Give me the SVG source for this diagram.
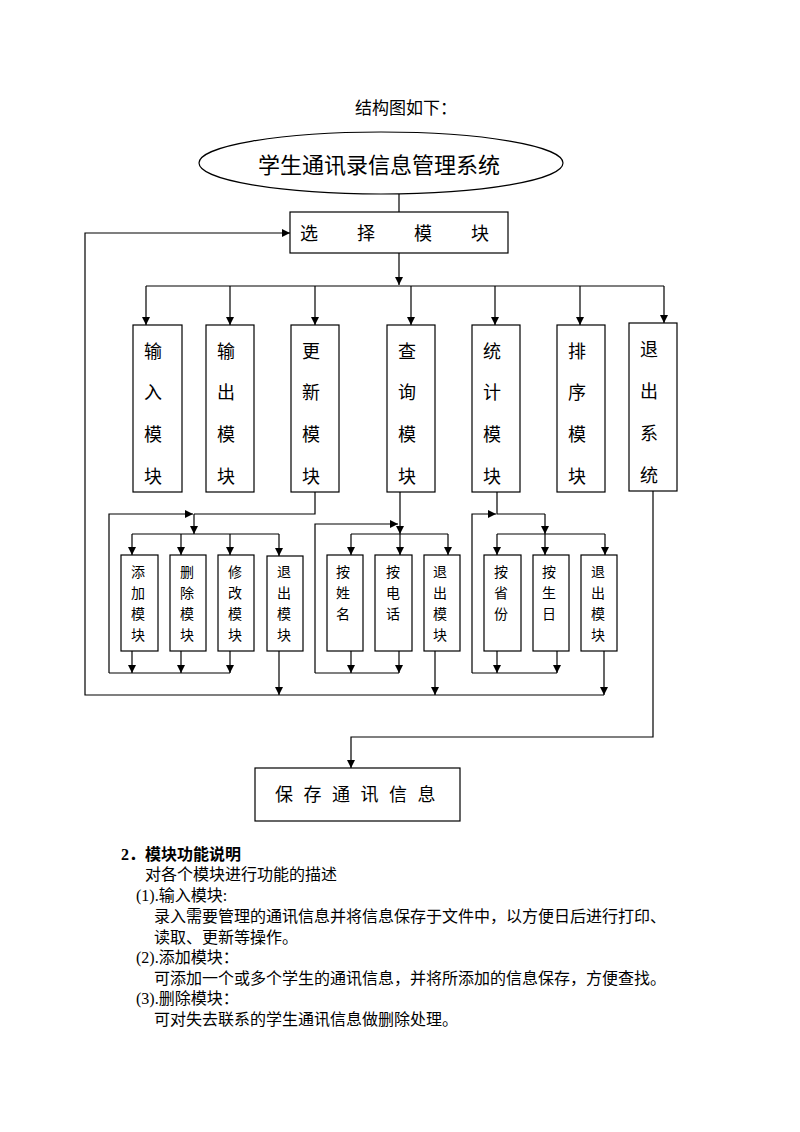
<svg xmlns="http://www.w3.org/2000/svg" width="800" height="1132" viewBox="0 0 800 1132">
<style>
.ln{fill:none;stroke:#000;stroke-width:1.2}
.bx{fill:#fff;stroke:#000;stroke-width:1.2}
.t{font-family:"Liberation Sans","Noto Sans CJK SC",sans-serif;fill:#000}
.m{font-size:18px;text-anchor:middle;dominant-baseline:central}
.s{font-size:14px;text-anchor:middle;dominant-baseline:central}
.p{font-family:"Liberation Serif","Noto Sans CJK SC",serif;font-size:16px;fill:#000}
</style>
<defs>
<marker id="ar" viewBox="0 0 10 10" refX="10" refY="5" markerWidth="9" markerHeight="8" markerUnits="userSpaceOnUse" orient="auto">
<path d="M0,0 L10,5 L0,10 Z" fill="#000"/>
</marker>
</defs>
<rect width="800" height="1132" fill="#fff"/>
<text class="t" x="355" y="114" style="font-size:17px">结构图如下：</text>

<g id="connectors">
<path class="ln" d="M399,194 V212"/>
<path class="ln" d="M399,253 V285" marker-end="url(#ar)"/>
<path class="ln" d="M146,286 H664"/>
<path class="ln" d="M146,286 V325" marker-end="url(#ar)"/>
<path class="ln" d="M230,286 V325" marker-end="url(#ar)"/>
<path class="ln" d="M315,286 V325" marker-end="url(#ar)"/>
<path class="ln" d="M411,286 V325" marker-end="url(#ar)"/>
<path class="ln" d="M495,286 V325" marker-end="url(#ar)"/>
<path class="ln" d="M580,286 V325" marker-end="url(#ar)"/>
<path class="ln" d="M664,286 V323" marker-end="url(#ar)"/>
<!-- outer return loop -->
<path class="ln" d="M604,695 H85 V233 H290" marker-end="url(#ar)"/>
<!-- update group -->
<path class="ln" d="M315,492 V514 H194"/>
<path class="ln" d="M109,673 V514 H193" marker-end="url(#ar)"/>
<path class="ln" d="M194,514 V534" marker-end="url(#ar)"/>
<path class="ln" d="M132,534 H279"/>
<path class="ln" d="M132,534 V555" marker-end="url(#ar)"/>
<path class="ln" d="M181,534 V555" marker-end="url(#ar)"/>
<path class="ln" d="M230,534 V555" marker-end="url(#ar)"/>
<path class="ln" d="M279,534 V556" marker-end="url(#ar)"/>
<path class="ln" d="M132,651 V673" marker-end="url(#ar)"/>
<path class="ln" d="M181,651 V673" marker-end="url(#ar)"/>
<path class="ln" d="M230,651 V673" marker-end="url(#ar)"/>
<path class="ln" d="M109,673 H230"/>
<path class="ln" d="M279,651 V695" marker-end="url(#ar)"/>
<!-- query group -->
<path class="ln" d="M400,492 V534" marker-end="url(#ar)"/>
<path class="ln" d="M315,673 V524 H398" marker-end="url(#ar)"/>
<path class="ln" d="M351,534 H448"/>
<path class="ln" d="M351,534 V555" marker-end="url(#ar)"/>
<path class="ln" d="M400,534 V555" marker-end="url(#ar)"/>
<path class="ln" d="M448,534 V555" marker-end="url(#ar)"/>
<path class="ln" d="M351,651 V673" marker-end="url(#ar)"/>
<path class="ln" d="M399,651 V673" marker-end="url(#ar)"/>
<path class="ln" d="M315,673 H399"/>
<path class="ln" d="M435,651 V695" marker-end="url(#ar)"/>
<!-- stats group -->
<path class="ln" d="M497,492 V514 H545"/>
<path class="ln" d="M472,673 V514 H496" marker-end="url(#ar)"/>
<path class="ln" d="M545,514 V534" marker-end="url(#ar)"/>
<path class="ln" d="M497,534 H605"/>
<path class="ln" d="M497,534 V555" marker-end="url(#ar)"/>
<path class="ln" d="M545,534 V555" marker-end="url(#ar)"/>
<path class="ln" d="M605,534 V555" marker-end="url(#ar)"/>
<path class="ln" d="M497,651 V673" marker-end="url(#ar)"/>
<path class="ln" d="M557,651 V673" marker-end="url(#ar)"/>
<path class="ln" d="M472,673 H557"/>
<path class="ln" d="M604,651 V695" marker-end="url(#ar)"/>
<!-- exit system to save -->
<path class="ln" d="M653,491 V737 H351 V768" marker-end="url(#ar)"/>
</g>

<g id="root">
<ellipse class="bx" cx="381" cy="163" rx="182" ry="31"/>
<text class="t" x="379" y="165" style="font-size:22px;text-anchor:middle;dominant-baseline:central">学生通讯录信息管理系统</text>
</g>
<g id="select">
<rect class="bx" x="290" y="212" width="218" height="41"/>
<text class="t" x="300" y="240" style="font-size:18px;letter-spacing:39px">选择模块</text>
</g>

<g id="m-input"><rect class="bx" x="133" y="325" width="49" height="167"/>
<text class="t m" x="153"><tspan x="153" y="352">输</tspan><tspan x="153" y="393">入</tspan><tspan x="153" y="435">模</tspan><tspan x="153" y="477">块</tspan></text></g>
<g id="m-output"><rect class="bx" x="206" y="325" width="48" height="167"/>
<text class="t m"><tspan x="226" y="352">输</tspan><tspan x="226" y="393">出</tspan><tspan x="226" y="435">模</tspan><tspan x="226" y="477">块</tspan></text></g>
<g id="m-update"><rect class="bx" x="291" y="325" width="48" height="167"/>
<text class="t m"><tspan x="311" y="352">更</tspan><tspan x="311" y="393">新</tspan><tspan x="311" y="435">模</tspan><tspan x="311" y="477">块</tspan></text></g>
<g id="m-query"><rect class="bx" x="387" y="325" width="48" height="167"/>
<text class="t m"><tspan x="407" y="352">查</tspan><tspan x="407" y="393">询</tspan><tspan x="407" y="435">模</tspan><tspan x="407" y="477">块</tspan></text></g>
<g id="m-stats"><rect class="bx" x="472" y="325" width="48" height="167"/>
<text class="t m"><tspan x="492" y="352">统</tspan><tspan x="492" y="393">计</tspan><tspan x="492" y="435">模</tspan><tspan x="492" y="477">块</tspan></text></g>
<g id="m-sort"><rect class="bx" x="557" y="325" width="48" height="167"/>
<text class="t m"><tspan x="577" y="352">排</tspan><tspan x="577" y="393">序</tspan><tspan x="577" y="435">模</tspan><tspan x="577" y="477">块</tspan></text></g>
<g id="m-exit"><rect class="bx" x="629" y="323" width="48" height="168"/>
<text class="t m"><tspan x="649" y="350">退</tspan><tspan x="649" y="392">出</tspan><tspan x="649" y="434">系</tspan><tspan x="649" y="476">统</tspan></text></g>

<g id="s-add"><rect class="bx" x="121" y="555" width="37" height="96"/>
<text class="t s"><tspan x="138" y="572">添</tspan><tspan x="138" y="593">加</tspan><tspan x="138" y="614">模</tspan><tspan x="138" y="635">块</tspan></text></g>
<g id="s-del"><rect class="bx" x="170" y="555" width="36" height="96"/>
<text class="t s"><tspan x="187" y="572">删</tspan><tspan x="187" y="593">除</tspan><tspan x="187" y="614">模</tspan><tspan x="187" y="635">块</tspan></text></g>
<g id="s-mod"><rect class="bx" x="218" y="555" width="36" height="96"/>
<text class="t s"><tspan x="235" y="572">修</tspan><tspan x="235" y="593">改</tspan><tspan x="235" y="614">模</tspan><tspan x="235" y="635">块</tspan></text></g>
<g id="s-exit1"><rect class="bx" x="267" y="556" width="36" height="95"/>
<text class="t s"><tspan x="284" y="572">退</tspan><tspan x="284" y="593">出</tspan><tspan x="284" y="614">模</tspan><tspan x="284" y="635">块</tspan></text></g>

<g id="s-name"><rect class="bx" x="327" y="555" width="36" height="96"/>
<text class="t s"><tspan x="343" y="572">按</tspan><tspan x="343" y="593">姓</tspan><tspan x="343" y="614">名</tspan></text></g>
<g id="s-phone"><rect class="bx" x="375" y="555" width="37" height="96"/>
<text class="t s"><tspan x="393" y="572">按</tspan><tspan x="393" y="593">电</tspan><tspan x="393" y="614">话</tspan></text></g>
<g id="s-exit2"><rect class="bx" x="424" y="555" width="36" height="96"/>
<text class="t s"><tspan x="440" y="572">退</tspan><tspan x="440" y="593">出</tspan><tspan x="440" y="614">模</tspan><tspan x="440" y="635">块</tspan></text></g>

<g id="s-prov"><rect class="bx" x="484" y="555" width="37" height="96"/>
<text class="t s"><tspan x="501" y="572">按</tspan><tspan x="501" y="593">省</tspan><tspan x="501" y="614">份</tspan></text></g>
<g id="s-birth"><rect class="bx" x="533" y="555" width="36" height="96"/>
<text class="t s"><tspan x="549" y="572">按</tspan><tspan x="549" y="593">生</tspan><tspan x="549" y="614">日</tspan></text></g>
<g id="s-exit3"><rect class="bx" x="581" y="555" width="36" height="96"/>
<text class="t s"><tspan x="598" y="572">退</tspan><tspan x="598" y="593">出</tspan><tspan x="598" y="614">模</tspan><tspan x="598" y="635">块</tspan></text></g>

<g id="save"><rect class="bx" x="255" y="768" width="205" height="53"/>
<text class="t" x="275" y="801" style="font-size:18px;letter-spacing:10.5px">保存通讯信息</text></g>

<g id="desc">
<text class="p" x="121" y="860" style="font-weight:bold">2．模块功能说明</text>
<text class="p" x="145" y="880">对各个模块进行功能的描述</text>
<text class="p" x="136" y="901">(1).输入模块:</text>
<text class="p" x="154" y="922">录入需要管理的通讯信息并将信息保存于文件中，以方便日后进行打印、</text>
<text class="p" x="154" y="943">读取、更新等操作。</text>
<text class="p" x="136" y="963">(2).添加模块：</text>
<text class="p" x="154" y="984">可添加一个或多个学生的通讯信息，并将所添加的信息保存，方便查找。</text>
<text class="p" x="136" y="1004">(3).删除模块：</text>
<text class="p" x="154" y="1025">可对失去联系的学生通讯信息做删除处理。</text>
</g>
</svg>
